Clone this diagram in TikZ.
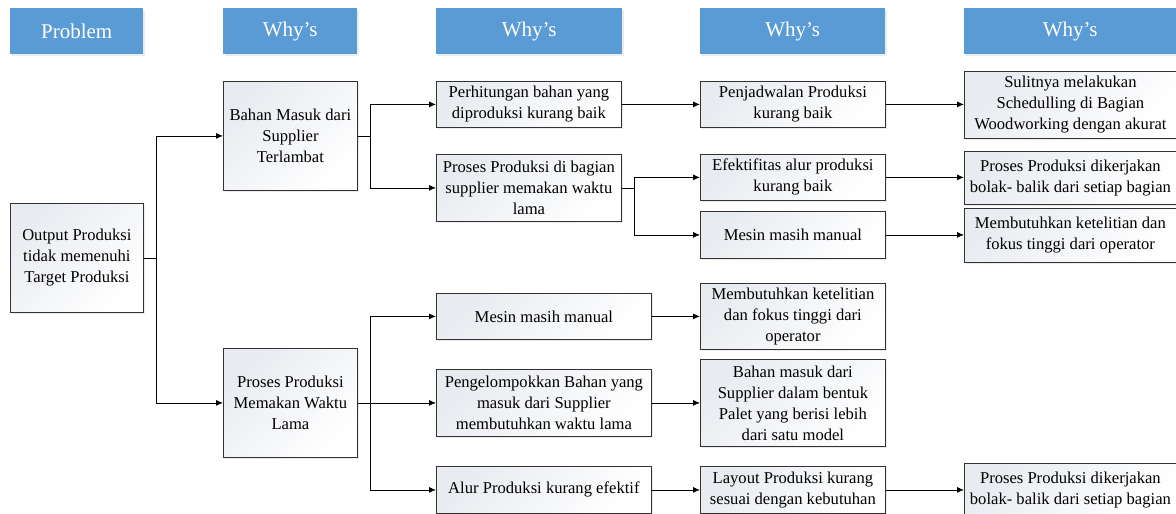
\documentclass[tikz,border=0pt]{standalone}
\usepackage{fontspec}
\setmainfont{Liberation Serif}
\usetikzlibrary{arrows.meta,shadows}
\definecolor{headblue}{RGB}{91,155,213}
\definecolor{boxtint}{RGB}{232,235,240}
\definecolor{boxline}{RGB}{50,50,50}
\tikzset{
  head/.style={fill=headblue, text=white, anchor=north west, inner sep=0pt,
    font=\fontsize{21}{24}\selectfont,
    drop shadow={shadow xshift=1.5pt, shadow yshift=-1.5pt, opacity=0.2, fill=black!40}},
  box/.style={draw=boxline, line width=0.8pt, anchor=north west, align=center, inner sep=1pt,
    left color=boxtint, right color=white, shading angle=45,
    font=\fontsize{16.6}{21}\selectfont,
    drop shadow={shadow xshift=1.2pt, shadow yshift=-1.2pt, opacity=0.2, fill=black!40}},
  conn/.style={draw=black, line width=0.8pt},
  arr/.style={conn, -{Latex[length=7pt,width=6pt]}}
}
\begin{document}
\begin{tikzpicture}[x=1pt,y=-1pt]
\useasboundingbox (0,0) rectangle (1176,514);

% column headers
\node[head, minimum width=133pt, minimum height=46pt] (h0) at (10,8) {Problem};
\node[head, minimum width=134pt, minimum height=46pt] (h1) at (223,8) {Why’s};
\node[head, minimum width=186pt, minimum height=46pt] (h2) at (436,8) {Why’s};
\node[head, minimum width=185pt, minimum height=46pt] (h3) at (700,8) {Why’s};
\node[head, minimum width=212pt, minimum height=46pt] (h4) at (964,8) {Why’s};

% problem
\node[box, minimum width=133pt, minimum height=109pt] (out) at (10,203)
  {Output Produksi\\tidak memenuhi\\Target Produksi};

% first why
\node[box, minimum width=134pt, minimum height=109pt] (bahan) at (223,81)
  {Bahan Masuk dari\\Supplier\\Terlambat};
\node[box, minimum width=134pt, minimum height=109pt] (lama) at (223,348)
  {Proses Produksi\\Memakan Waktu\\Lama};

% second why, upper branch
\node[box, minimum width=185pt, minimum height=46pt] (hitung) at (436,81)
  {Perhitungan bahan yang\\diproduksi kurang baik};
\node[box, minimum width=185pt, minimum height=67pt] (supp) at (436,154)
  {Proses Produksi di bagian\\supplier memakan waktu\\lama};

% second why, lower branch
\node[box, minimum width=215pt, minimum height=46pt] (mesinB) at (436,293)
  {Mesin masih manual};
\node[box, minimum width=215pt, minimum height=67pt] (kelompok) at (436,369)
  {Pengelompokkan Bahan yang\\masuk dari Supplier\\membutuhkan waktu lama};
\node[box, minimum width=215pt, minimum height=47pt] (alur) at (436,466)
  {Alur Produksi kurang efektif};

% third why
\node[box, minimum width=185pt, minimum height=46pt] (jadwal) at (700,81)
  {Penjadwalan Produksi\\kurang baik};
\node[box, minimum width=185pt, minimum height=46pt] (efek) at (700,154)
  {Efektifitas alur produksi\\kurang baik};
\node[box, minimum width=185pt, minimum height=47pt] (mesinA) at (700,211)
  {Mesin masih manual};
\node[box, minimum width=185pt, minimum height=66pt] (telitiB) at (700,283)
  {Membutuhkan ketelitian\\dan fokus tinggi dari\\operator};
\node[box, minimum width=185pt, minimum height=87pt] (palet) at (700,359)
  {Bahan masuk dari\\Supplier dalam bentuk\\Palet yang berisi lebih\\dari satu model};
\node[box, minimum width=185pt, minimum height=47pt] (layout) at (700,466)
  {Layout Produksi kurang\\sesuai dengan kebutuhan};

% fourth why
\node[box, minimum width=212pt, minimum height=67pt] (sulit) at (964,71)
  {Sulitnya melakukan\\Schedulling di Bagian\\Woodworking dengan akurat};
\node[box, minimum width=212pt, minimum height=53pt] (bolakA) at (964,151)
  {Proses Produksi dikerjakan\\bolak- balik dari setiap bagian};
\node[box, minimum width=212pt, minimum height=54pt] (telitiA) at (964,208)
  {Membutuhkan ketelitian dan\\fokus tinggi dari operator};
\node[box, minimum width=212pt, minimum height=53pt] (bolakB) at (964,463)
  {Proses Produksi dikerjakan\\bolak- balik dari setiap bagian};

% branching connectors
\draw[arr] (out.east) -- ++(13,0) |- (bahan.west);
\draw[arr] (out.east) -- ++(13,0) |- (lama.west);
\draw[arr] (bahan.east) -- ++(13,0) |- (hitung.west);
\draw[arr] (bahan.east) -- ++(13,0) |- (supp.west);
\draw[arr] (supp.east) -- ++(13,0) |- (efek.west);
\draw[arr] (supp.east) -- ++(13,0) |- (mesinA.west);
\draw[arr] (lama.east) -- ++(13,0) |- (mesinB.west);
\draw[arr] (lama.east) -- ++(13,0) |- (kelompok.west);
\draw[arr] (lama.east) -- ++(13,0) |- (alur.west);

% straight connectors
\draw[arr] (hitung.east) -- (hitung.east -| jadwal.west);
\draw[arr] (jadwal.east) -- (jadwal.east -| sulit.west);
\draw[arr] (efek.east) -- (efek.east -| bolakA.west);
\draw[arr] (mesinA.east) -- (mesinA.east -| telitiA.west);
\draw[arr] (mesinB.east) -- (mesinB.east -| telitiB.west);
\draw[arr] (kelompok.east) -- (kelompok.east -| palet.west);
\draw[arr] (alur.east) -- (alur.east -| layout.west);
\draw[arr] (layout.east) -- (layout.east -| bolakB.west);
\end{tikzpicture}
\end{document}
